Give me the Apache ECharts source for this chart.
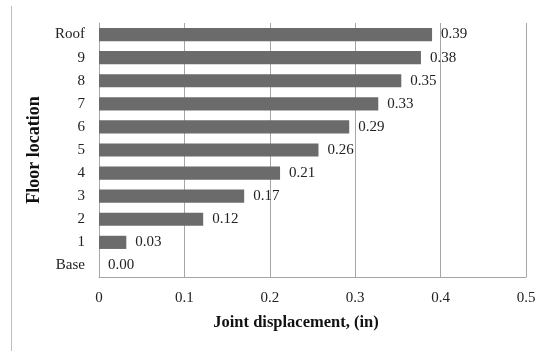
<!DOCTYPE html>
<html><head><meta charset="utf-8">
<script src="https://cdn.jsdelivr.net/npm/echarts@6/dist/echarts.min.js"></script>
<style>html,body{margin:0;padding:0;background:#fff}#c{width:541px;height:351px}</style>
</head><body><div id="c"></div>
<script>
const categories = ['Base','1','2','3','4','5','6','7','8','9','Roof'];
const displacement = [0.00,0.032,0.122,0.170,0.212,0.257,0.293,0.327,0.354,0.377,0.390];
const xTicks = [0,0.1,0.2,0.3,0.4,0.5];
const font = 'Liberation Serif, Times New Roman, serif';
const chart = echarts.init(document.getElementById('c'));
chart.setOption({
  animation:false,
  graphic:[{type:'line',shape:{x1:11.5,y1:6,x2:11.5,y2:351},style:{stroke:'#bdbdbd',lineWidth:1}}],
  grid:{left:99,right:15,top:23,bottom:74,containLabel:false},
  xAxis:{type:'value',min:xTicks[0],max:xTicks[xTicks.length-1],interval:0.1,
    name:'Joint displacement, (in)',nameLocation:'middle',nameGap:37,
    nameTextStyle:{fontFamily:font,fontSize:16.5,fontWeight:'bold',color:'#111',padding:[0,33,0,0]},
    axisLine:{show:true,lineStyle:{color:'#a6a6a6'}},axisTick:{show:false},
    axisLabel:{fontFamily:font,fontSize:15,color:'#222',margin:14,formatter:v=>String(Math.round(v*10)/10)},
    splitLine:{show:true,lineStyle:{color:'#a6a6a6',width:1}}},
  yAxis:{type:'category',data:categories,
    name:'Floor location',nameLocation:'middle',nameGap:56,nameRotate:90,
    nameTextStyle:{fontFamily:font,fontSize:18,fontWeight:'bold',color:'#111'},
    axisLine:{show:true,lineStyle:{color:'#a6a6a6'}},axisTick:{show:false},
    axisLabel:{fontFamily:font,fontSize:15,color:'#222',margin:14}},
  series:[{type:'bar',data:displacement,barCategoryGap:'43%',
    itemStyle:{color:'#6b6b6b'},
    label:{show:true,position:'right',distance:9,fontFamily:font,fontSize:15,color:'#222',
      formatter:p=>p.value.toFixed(2)}}]
});
</script></body></html>
